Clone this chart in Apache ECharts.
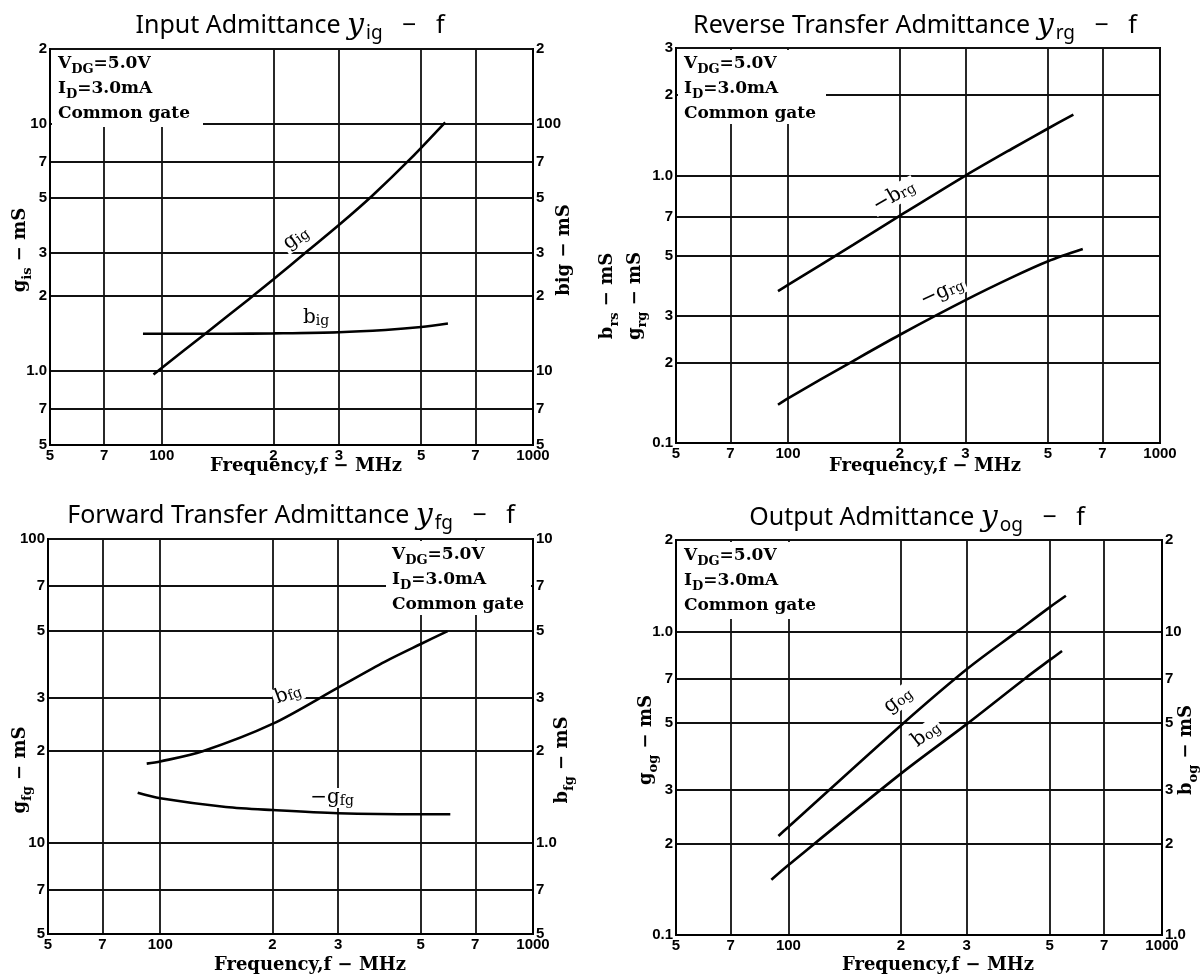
<!DOCTYPE html>
<html>
<head>
<meta charset="utf-8">
<title>Admittance - f</title>
<script src="https://cdn.jsdelivr.net/npm/echarts@6/dist/echarts.min.js"></script>
<style>
html, body { margin: 0; padding: 0; background: #fff; }
#chart { width: 1204px; height: 976px; }
</style>
</head>
<body>
<div id="chart"></div>
<script>
// frequency axis (MHz), shared by all four panels
var freqTicks = [50, 70, 100, 200, 300, 500, 700, 1000];
var freqTickText = ['5', '7', '100', '2', '3', '5', '7', '1000'];

// Input admittance yig
var igTicksL = [0.5, 0.7, 1, 2, 3, 5, 7, 10, 20];
var igTextL = ['5', '7', '1.0', '2', '3', '5', '7', '10', '2'];
var igTicksR = [5, 7, 10, 20, 30, 50, 70, 100, 200];
var igTextR = ['5', '7', '10', '2', '3', '5', '7', '100', '2'];
var gIgFreq = [95, 131, 172, 200, 246, 300, 369, 468, 580];
var gIgVal = [0.965, 1.41, 1.95, 2.34, 3.03, 3.88, 5.1, 7.2, 10.1];
var bIgFreq = [89, 100, 150, 200, 300, 400, 500, 590];
var bIgVal = [14.1, 14.1, 14.1, 14.15, 14.3, 14.6, 15.0, 15.5];

// Reverse transfer admittance yrg
var rgTicks = [0.1, 0.2, 0.3, 0.5, 0.7, 1, 2, 3];
var rgText = ['0.1', '2', '3', '5', '7', '1.0', '2', '3'];
var bRgFreq = [94, 100, 150, 200, 300, 400, 500, 585];
var bRgVal = [0.37, 0.39, 0.552, 0.708, 1.0, 1.26, 1.50, 1.69];
var gRgFreq = [94, 100, 150, 200, 300, 400, 500, 620];
var gRgVal = [0.139, 0.147, 0.203, 0.254, 0.342, 0.416, 0.478, 0.531];

// Forward transfer admittance yfg
var fgTicksL = [5, 7, 10, 20, 30, 50, 70, 100];
var fgTextL = ['5', '7', '10', '2', '3', '5', '7', '100'];
var fgTicksR = [0.5, 0.7, 1, 2, 3, 5, 7, 10];
var fgTextR = ['5', '7', '1.0', '2', '3', '5', '7', '10'];
var bFgFreq = [92, 100, 130, 200, 300, 400, 500, 590];
var bFgVal = [1.82, 1.85, 2.0, 2.46, 3.24, 3.94, 4.51, 4.97];
var gFgFreq = [87, 100, 150, 200, 300, 500, 600];
var gFgVal = [14.6, 14.0, 13.1, 12.8, 12.5, 12.4, 12.4];

// Output admittance yog
var ogTicksL = [0.1, 0.2, 0.3, 0.5, 0.7, 1, 2];
var ogTextL = ['0.1', '2', '3', '5', '7', '1.0', '2'];
var ogTicksR = [1, 2, 3, 5, 7, 10, 20];
var ogTextR = ['1.0', '2', '3', '5', '7', '10', '2'];
var gOgFreq = [94, 100, 200, 300, 410, 500, 553];
var gOgVal = [0.212, 0.227, 0.49, 0.75, 1.0, 1.2, 1.31];
var bOgFreq = [90, 100, 200, 300, 430, 500, 540];
var bOgVal = [1.52, 1.70, 3.40, 4.95, 7.0, 8.04, 8.62];

var chart = echarts.init(document.getElementById('chart'));

var SERIF = 'DejaVu Serif';
var SANS = 'Liberation Sans';

function tickFormatter(vals, texts) {
  return function (v) {
    for (var i = 0; i < vals.length; i++) {
      if (Math.abs(v / vals[i] - 1) < 1e-3) return texts[i];
    }
    return '';
  };
}

function labelStyle(vals, texts) {
  return {
    customValues: vals,
    formatter: tickFormatter(vals, texts),
    margin: 3,
    color: '#000',
    fontFamily: SANS,
    fontWeight: 'bold',
    fontSize: 15
  };
}

function xAxisFor(grid) {
  return {
    type: 'log', logBase: 10, gridIndex: grid, min: 50, max: 1000,
    axisLine: { show: true, onZero: false, lineStyle: { color: '#000', width: 2 } },
    axisTick: { show: false, customValues: freqTicks },
    splitLine: { show: true, lineStyle: { color: '#111', width: 1.8 } },
    axisLabel: labelStyle(freqTicks, freqTickText)
  };
}

function yAxisFor(grid, pos, min, max, vals, texts) {
  return {
    type: 'log', logBase: 10, gridIndex: grid, position: pos, min: min, max: max,
    axisLine: { show: true, onZero: false, lineStyle: { color: '#000', width: 2 } },
    axisTick: { show: false, customValues: vals },
    splitLine: { show: pos === 'left', lineStyle: { color: '#111', width: 1.8 } },
    axisLabel: labelStyle(vals, texts)
  };
}

function pairs(xs, ys) {
  return xs.map(function (x, i) { return [x, ys[i]]; });
}

function curve(name, xi, yi, xs, ys) {
  return {
    name: name, type: 'line', xAxisIndex: xi, yAxisIndex: yi,
    data: pairs(xs, ys), smooth: 0.3,
    showSymbol: false, silent: true,
    lineStyle: { color: '#000', width: 2.6 }
  };
}

// rich text pieces
var serifRich = {
  n: { fontFamily: SERIF, fontSize: 17, fontWeight: 'bold', lineHeight: 25, color: '#000' },
  s: { fontFamily: SERIF, fontSize: 13, fontWeight: 'bold', lineHeight: 25, verticalAlign: 'bottom', padding: [6, 0, 0, 0], color: '#000' }
};
var nameRich = {
  n: { fontFamily: SERIF, fontSize: 18, fontWeight: 'bold', lineHeight: 28, color: '#000' },
  s: { fontFamily: SERIF, fontSize: 13, fontWeight: 'bold', lineHeight: 28, verticalAlign: 'bottom', padding: [6, 0, 0, 0], color: '#000' }
};
var titleRich = {
  t: { fontFamily: 'Noto Sans', fontSize: 25, lineHeight: 34, color: '#000' },
  y: { fontFamily: SERIF, fontStyle: 'italic', fontSize: 30, lineHeight: 34, color: '#000' },
  s: { fontFamily: 'Noto Sans', fontSize: 19, lineHeight: 34, verticalAlign: 'bottom', padding: [10, 0, 0, 2], color: '#000' }
};
var curveRich = {
  n: { fontFamily: SERIF, fontSize: 20, lineHeight: 20, color: '#000' },
  s: { fontFamily: SERIF, fontSize: 14, lineHeight: 20, verticalAlign: 'bottom', padding: [5, 0, 0, 0], color: '#000' }
};

function title(x, y, main, sub) {
  return {
    type: 'text', x: x, y: y, z: 20,
    style: {
      text: '{t|' + main + ' }{y|y}{s|' + sub + '}{t|   \u2212   f}',
      rich: titleRich, align: 'center', verticalAlign: 'middle'
    }
  };
}

function condBox(x, y, w, h) {
  return [
    { type: 'rect', z: 15, shape: { x: x, y: y, width: w, height: h }, style: { fill: '#fff' } },
    {
      type: 'text', x: x + 6, y: y + 1, z: 16,
      style: {
        text: '{n|V}{s|DG}{n|=5.0V}\n{n|I}{s|D}{n|=3.0mA}\n{n|Common gate}',
        rich: serifRich, align: 'left', verticalAlign: 'top'
      }
    }
  ];
}

function sideName(x, y, text, rot) {
  return {
    type: 'text', x: x, y: y, rotation: rot, z: 20,
    style: { text: text, rich: nameRich, align: 'center', verticalAlign: 'middle' }
  };
}

function curveLabel(x, y, text, rot) {
  return {
    type: 'text', x: x, y: y, rotation: rot, z: 20,
    style: {
      text: text, rich: curveRich, align: 'center', verticalAlign: 'middle',
      backgroundColor: '#fff', padding: [0, 2, 0, 2]
    }
  };
}

var UP = Math.PI / 2;
var freqName = '{n|Frequency,f \u2212 MHz}';

var graphics = [
  title(290, 26, 'Input Admittance', 'ig'),
  title(915, 26, 'Reverse Transfer Admittance', 'rg'),
  title(291, 516, 'Forward Transfer Admittance', 'fg'),
  title(917, 518, 'Output Admittance', 'og')
]
  .concat(condBox(52, 50, 151, 77))
  .concat(condBox(678, 50, 148, 74))
  .concat(condBox(386, 541, 145, 74))
  .concat(condBox(678, 542, 142, 77))
  .concat([
    sideName(20, 250, '{n|g}{s|is}{n| \u2212 mS}', UP),
    sideName(564, 250, '{n|big \u2212 mS}', UP),
    sideName(621, 296, '{n|b}{s|rs}{n| \u2212 mS}\n{n|g}{s|rg}{n| \u2212 mS}', UP),
    sideName(20, 770, '{n|g}{s|fg}{n| \u2212 mS}', UP),
    sideName(562, 760, '{n|b}{s|fg}{n| \u2212 mS}', UP),
    sideName(646, 740, '{n|g}{s|og}{n| \u2212 mS}', UP),
    sideName(1186, 750, '{n|b}{s|og}{n| \u2212 mS}', UP),
    sideName(306, 466, freqName, 0),
    sideName(925, 466, freqName, 0),
    sideName(310, 965, freqName, 0),
    sideName(938, 965, freqName, 0),
    curveLabel(296, 238, '{n|g}{s|ig}', 0.62),
    curveLabel(316, 318, '{n|b}{s|ig}', 0),
    curveLabel(894, 196, '{n|\u2212b}{s|rg}', 0.52),
    curveLabel(942, 292, '{n|\u2212g}{s|rg}', 0.42),
    curveLabel(288, 694, '{n|b}{s|fg}', 0.36),
    curveLabel(332, 798, '{n|\u2212g}{s|fg}', 0),
    curveLabel(898, 700, '{n|g}{s|og}', 0.66),
    curveLabel(926, 734, '{n|b}{s|og}', 0.66)
  ]);

var gridStyle = { show: true, borderColor: '#000', borderWidth: 2, backgroundColor: 'transparent' };

var option = {
  backgroundColor: '#fff',
  animation: false,
  grid: [
    Object.assign({ left: 50, top: 49, width: 483, height: 396, outerBoundsMode: 'none' }, gridStyle),
    Object.assign({ left: 676, top: 48, width: 484, height: 395, outerBoundsMode: 'none' }, gridStyle),
    Object.assign({ left: 48, top: 539, width: 485, height: 395, outerBoundsMode: 'none' }, gridStyle),
    Object.assign({ left: 676, top: 540, width: 486, height: 395, outerBoundsMode: 'none' }, gridStyle)
  ],
  xAxis: [xAxisFor(0), xAxisFor(1), xAxisFor(2), xAxisFor(3)],
  yAxis: [
    yAxisFor(0, 'left', 0.5, 20, igTicksL, igTextL),
    yAxisFor(0, 'right', 5, 200, igTicksR, igTextR),
    yAxisFor(1, 'left', 0.1, 3, rgTicks, rgText),
    yAxisFor(2, 'left', 5, 100, fgTicksL, fgTextL),
    yAxisFor(2, 'right', 0.5, 10, fgTicksR, fgTextR),
    yAxisFor(3, 'left', 0.1, 2, ogTicksL, ogTextL),
    yAxisFor(3, 'right', 1, 20, ogTicksR, ogTextR)
  ],
  series: [
    curve('gig', 0, 0, gIgFreq, gIgVal),
    curve('big', 0, 1, bIgFreq, bIgVal),
    curve('-brg', 1, 2, bRgFreq, bRgVal),
    curve('-grg', 1, 2, gRgFreq, gRgVal),
    curve('bfg', 2, 4, bFgFreq, bFgVal),
    curve('-gfg', 2, 3, gFgFreq, gFgVal),
    curve('gog', 3, 5, gOgFreq, gOgVal),
    curve('bog', 3, 6, bOgFreq, bOgVal)
  ],
  graphic: graphics
};

chart.setOption(option);
</script>
</body>
</html>
